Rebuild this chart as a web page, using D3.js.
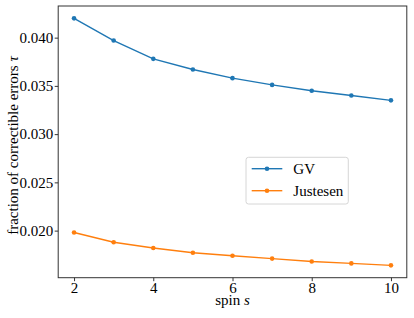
<!DOCTYPE html>
<html lang="en">
<head>
<meta charset="UTF-8">
<title>Correctible errors vs spin</title>
<script src="https://cdn.jsdelivr.net/npm/d3@7"></script>
<style>
  body { margin: 0; background: #fff; }
  text { font-family: "Liberation Serif", "Times New Roman", serif; fill: #000; }
</style>
</head>
<body>
<script>
const spins = [2, 3, 4, 5, 6, 7, 8, 9, 10];
const gvValues = [0.0420, 0.0397, 0.0378, 0.0367, 0.0358, 0.0351, 0.0345, 0.0340, 0.0335];
const justesenValues = [0.0198, 0.0188, 0.0182, 0.0177, 0.0174, 0.0171, 0.0168, 0.0166, 0.0164];
const seriesNames = ["GV", "Justesen"];
const xTicks = [2, 4, 6, 8, 10];
const yTicks = [0.020, 0.025, 0.030, 0.035, 0.040];

const width = 414, height = 318;
const margin = {top: 6, right: 7.2, bottom: 40.3, left: 58.2};
const colors = ["#1f77b4", "#ff7f0e"];
const fontSize = 15;

const svg = d3.select("body").append("svg")
    .attr("width", width)
    .attr("height", height);

// matplotlib-ish 5% margins
const allY = gvValues.concat(justesenValues);
const yMin = d3.min(allY), yMax = d3.max(allY);
const yPad = (yMax - yMin) * 0.05;
const xPad = (d3.max(spins) - d3.min(spins)) * 0.05;

const x = d3.scaleLinear()
    .domain([d3.min(spins) - xPad, d3.max(spins) + xPad])
    .range([margin.left, width - margin.right]);
const y = d3.scaleLinear()
    .domain([yMin - yPad, yMax + yPad])
    .range([height - margin.bottom, margin.top]);

const xAxis = svg.append("g")
    .attr("transform", `translate(0,${height - margin.bottom})`)
    .call(d3.axisBottom(x).tickValues(xTicks).tickSize(3.5).tickPadding(0.8).tickFormat(d3.format("d")));
const yAxis = svg.append("g")
    .attr("transform", `translate(${margin.left},0)`)
    .call(d3.axisLeft(y).tickValues(yTicks).tickSize(3.5).tickPadding(1.5).tickFormat(d3.format(".3f")));

[xAxis, yAxis].forEach(a => {
    a.select(".domain").remove();
    a.selectAll("line").attr("stroke", "#000").attr("stroke-width", 0.8);
    a.selectAll("text").style("font-size", fontSize + "px").attr("fill", "#000");
});

// frame
svg.append("rect")
    .attr("x", margin.left)
    .attr("y", margin.top)
    .attr("width", width - margin.left - margin.right)
    .attr("height", height - margin.top - margin.bottom)
    .attr("fill", "none")
    .attr("stroke", "#333")
    .attr("stroke-width", 1);

const line = d3.line()
    .x((d, i) => x(spins[i]))
    .y(d => y(d));

[gvValues, justesenValues].forEach((vals, k) => {
    svg.append("path")
        .datum(vals)
        .attr("d", line)
        .attr("fill", "none")
        .attr("stroke", colors[k])
        .attr("stroke-width", 1.4);
    svg.selectAll(null)
        .data(vals)
        .enter().append("circle")
        .attr("cx", (d, i) => x(spins[i]))
        .attr("cy", d => y(d))
        .attr("r", 2.3)
        .attr("fill", colors[k]);
});

// axis labels
const xl = svg.append("text")
    .attr("x", (margin.left + width - margin.right) / 2)
    .attr("y", 305)
    .attr("text-anchor", "middle")
    .style("font-size", fontSize + "px");
xl.append("tspan").text("spin ");
xl.append("tspan").style("font-style", "italic").text("s");

const yl = svg.append("text")
    .attr("transform", `translate(17.5,145.5) rotate(-90)`)
    .attr("text-anchor", "middle")
    .style("font-size", fontSize + "px");
yl.append("tspan").text("fraction of correctible errors ");
yl.append("tspan").style("font-style", "italic").text("τ");

// legend
const legend = svg.append("g");
legend.append("rect")
    .attr("x", 246)
    .attr("y", 157.3)
    .attr("width", 102.3)
    .attr("height", 46.7)
    .attr("rx", 2.5)
    .attr("fill", "#fff")
    .attr("fill-opacity", 0.8)
    .attr("stroke", "#ccc")
    .attr("stroke-width", 0.8);

seriesNames.forEach((name, k) => {
    const cy = 168.7 + k * 22;
    legend.append("line")
        .attr("x1", 251.7).attr("x2", 282.3)
        .attr("y1", cy).attr("y2", cy)
        .attr("stroke", colors[k])
        .attr("stroke-width", 1.4);
    legend.append("circle")
        .attr("cx", 267).attr("cy", cy)
        .attr("r", 2.3)
        .attr("fill", colors[k]);
    legend.append("text")
        .attr("x", 293.3)
        .attr("y", cy + 5)
        .style("font-size", fontSize + "px")
        .text(name);
});
</script>
</body>
</html>
